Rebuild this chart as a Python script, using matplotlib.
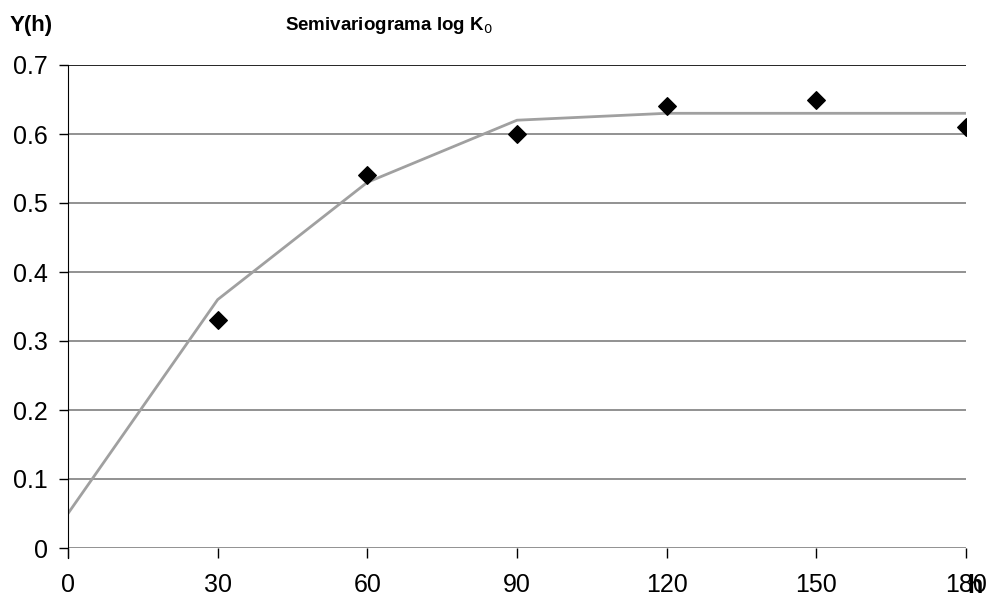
import matplotlib
matplotlib.use('Agg')
import matplotlib.pyplot as plt

# distance lags and experimental semivariance of log K0
lag = [30, 60, 90, 120, 150, 180]
gamma_exp = [0.33, 0.54, 0.60, 0.64, 0.65, 0.61]

# fitted model
lag_model = [0, 30, 60, 90, 120, 150, 180]
gamma_model = [0.05, 0.36, 0.53, 0.62, 0.63, 0.63, 0.63]

x_ticks = [0, 30, 60, 90, 120, 150, 180]
y_ticks = [0, 0.1, 0.2, 0.3, 0.4, 0.5, 0.6, 0.7]

plt.rcParams['font.family'] = ['Liberation Sans', 'DejaVu Sans']

fig = plt.figure(figsize=(9.9, 6.08), dpi=100)
ax = fig.add_axes([68/990, 60/608, 898/990, 483/608])

for y in y_ticks:
    ax.axhline(y, color='#7f7f7f' if y < 0.7 else 'black', lw=1.2, zorder=1)

ax.plot(lag_model, gamma_model, color='#a0a0a0', lw=2, zorder=2)
ax.scatter(lag, gamma_exp, marker='D', s=80, color='black', zorder=3)

ax.set_xlim(0, 180)
ax.set_ylim(0, 0.7)
ax.set_xticks(x_ticks)
ax.set_yticks(y_ticks)
ax.set_yticklabels(['0', '0.1', '0.2', '0.3', '0.4', '0.5', '0.6', '0.7'])

for s in ['top', 'right']:
    ax.spines[s].set_visible(False)
ax.spines['bottom'].set_visible(False)
ax.spines['left'].set_color('black')
ax.spines['left'].set_bounds(-0.015, 0.7)
ax.spines['left'].set_clip_on(False)

ax.tick_params(axis='y', direction='out', length=6.5, width=1, labelsize=18, pad=8)
ax.tick_params(axis='x', direction='out', length=7, width=1, labelsize=18, pad=11)

fig.text(389/990, 1 - 26/608, 'Semivariograma log K$_0$', ha='center', va='center',
         fontsize=13.5, fontweight='bold')
fig.text(10/990, 1 - 26/608, 'Y(h)', ha='left', va='center',
         fontsize=16, fontweight='bold')
fig.text(975/990, 1 - 586/608, 'h', ha='center', va='center',
         fontsize=18, fontweight='bold')

fig.savefig('out.png', dpi=100)
